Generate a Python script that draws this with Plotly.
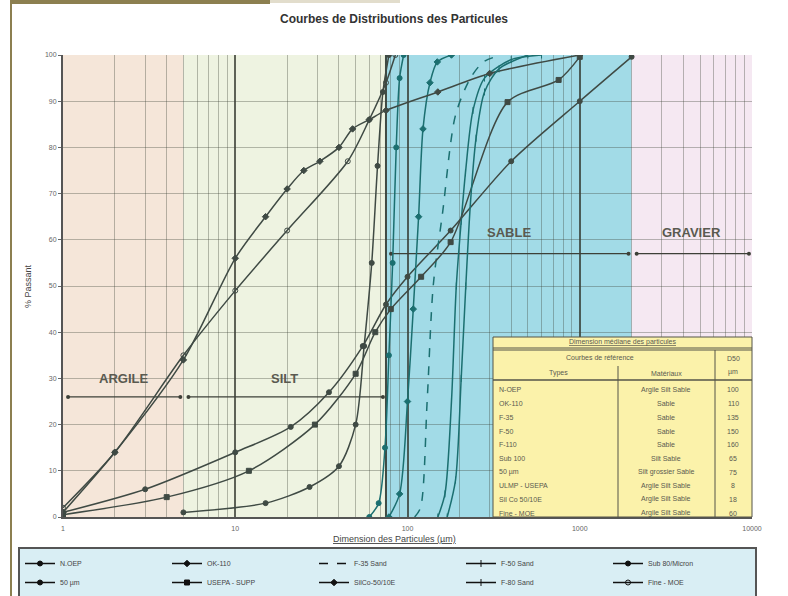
import numpy as np
import plotly.graph_objects as go

# Zones granulométriques (µm)
zone_names = ["ARGILE", "SILT", "SABLE", "GRAVIER"]
zone_limits = [1, 5, 75, 2000, 10000]
zone_colors = ["#f5e6d9", "#eef3e1", "#a2dbe7", "#f5e8f2"]
zone_label_y = [30, 30, 61.5, 61.5]
zone_arrow_y = [26, 26, 57, 57]

# Axis ticks
x_ticks = [1, 10, 100, 1000, 10000]
x_tick_text = ["1", "10", "100", "1000", "10000"]
y_ticks = list(range(0, 101, 10))

# Courbes: dimension (µm) / % passant
noep_d = [1, 3, 10, 21, 35, 55, 75, 100, 178, 400, 1000, 2000]
noep_p = [1, 6, 14, 19.5, 27, 37, 46, 52, 62, 77, 90, 99.6]

ok110_d = [78, 90, 100, 108, 116, 123, 135, 149, 180]
ok110_p = [0, 5, 25, 45, 65, 84, 94, 98.5, 100]

f35_d = [110, 119, 130, 141, 160, 190, 232, 276, 350]
f35_p = [0, 2, 25, 50, 66, 87, 95, 98.5, 100]

f50_d = [150, 165, 180, 192, 205, 217, 240, 280, 400, 600]
f50_p = [0, 5, 25, 50, 64, 74.5, 88, 95, 99, 100]

sub80_d = [5, 15, 27, 40, 50, 56, 62, 67, 72, 78]
sub80_p = [1, 3, 6.5, 11, 20, 37, 55, 76, 92, 100]

um50_d = [60, 68, 74, 78, 82, 86, 90, 95]
um50_p = [0, 3, 15, 35, 55, 80, 95, 100]

usepa_d = [1, 4, 12, 29, 50, 65, 80, 120, 178, 381, 754, 1000]
usepa_p = [0.5, 4.3, 10, 20, 31, 40, 45, 52, 59.5, 89.8, 94.6, 99.6]

silco_d = [1, 2, 5, 10, 15, 20, 25, 31, 40, 48, 60, 75, 150, 300, 1000]
silco_p = [1, 14, 34, 56, 65, 71, 75, 77, 80, 84, 86, 88, 92, 96, 100]

f80_d = [170, 190, 205, 218, 232, 250, 280, 340, 500]
f80_p = [0, 8, 30, 50, 68, 82, 92, 97, 100]

moe_d = [1, 2, 5, 10, 20, 45, 60, 75, 85]
moe_p = [2, 14, 35, 49, 62, 77, 86, 94, 100]

# Tableau des diamètres médians
table_types = ["N-OEP", "OK-110", "F-35", "F-50", "F-110", "Sub 100", "50 µm",
               "ULMP - USEPA", "Sil Co 50/10E", "Fine - MOE"]
table_mat = ["Argile Silt Sable", "Sable", "Sable", "Sable", "Sable", "Silt Sable",
             "Silt grossier Sable", "Argile Silt Sable", "Argile Silt Sable",
             "Argile Silt Sable"]
table_d50 = ["100", "110", "135", "150", "160", "65", "75", "8", "18", "60"]

GRAY = "#3f4a44"
TEAL = "#1b6f70"

# name, x, y, color, dash, symbol
curves = [
    ("N.OEP", noep_d, noep_p, GRAY, "solid", "circle"),
    ("OK-110", ok110_d, ok110_p, TEAL, "solid", "diamond"),
    ("F-35 Sand", f35_d, f35_p, TEAL, "dash", None),
    ("F-50 Sand", f50_d, f50_p, TEAL, "solid", "line-ns"),
    ("Sub 80/Micron", sub80_d, sub80_p, GRAY, "solid", "circle"),
    ("50 µm", um50_d, um50_p, TEAL, "solid", "circle"),
    ("USEPA - SUPP", usepa_d, usepa_p, GRAY, "solid", "square"),
    ("SilCo-50/10E", silco_d, silco_p, GRAY, "solid", "diamond"),
    ("F-80 Sand", f80_d, f80_p, TEAL, "solid", "line-ns"),
    ("Fine - MOE", moe_d, moe_p, GRAY, "solid", "circle-open"),
]


def px_x(px):
    return (px - 63) / 689


def px_y(py):
    return (517 - py) / 462


fig = go.Figure()

# Zone arrows
for i, name in enumerate(zone_names):
    lo, hi = zone_limits[i], zone_limits[i + 1]
    fig.add_trace(
        go.Scatter(
            x=[lo * 1.07, hi * 0.96],
            y=[zone_arrow_y[i], zone_arrow_y[i]],
            mode="lines+markers",
            line=dict(color="#3d4038", width=1.2),
            marker=dict(size=4, color="#3d4038"),
            showlegend=False,
            hoverinfo="skip",
        )
    )

# Curves
for name, xs, ys, col, dash, sym in curves:
    fig.add_trace(
        go.Scatter(
            x=xs,
            y=ys,
            mode="lines+markers" if sym else "lines",
            line=dict(color=col, width=1.5, dash=dash, shape="spline", smoothing=0.8),
            marker=dict(symbol=sym or "circle", size=5, color=col,
                        line=dict(color=col, width=1)),
            name=name,
            showlegend=False,
        )
    )
    # legend entry in black
    fig.add_trace(
        go.Scatter(
            x=[None],
            y=[None],
            mode="lines+markers" if sym else "lines",
            line=dict(color="#111111", width=1.5, dash=dash),
            marker=dict(symbol=sym or "circle", size=5, color="#111111",
                        line=dict(color="#111111", width=1)),
            name=name,
        )
    )

shapes = []
# Background zones
for i in range(len(zone_names)):
    shapes.append(dict(type="rect", xref="x", yref="paper",
                       x0=zone_limits[i], x1=zone_limits[i + 1], y0=0, y1=1,
                       fillcolor=zone_colors[i], line=dict(width=0), layer="below"))
shapes.append(dict(type="line", xref="x", yref="paper", x0=75, x1=75, y0=0, y1=1,
                   line=dict(color="#3f4a44", width=2), layer="below"))

# Table
T_L, T_R, T_T, T_B = 493, 752, 337, 517
C1, C2 = 618, 715
TBL_LINE = "#555548"
shapes.append(dict(type="rect", xref="paper", yref="paper",
                   x0=px_x(T_L), x1=px_x(T_R), y0=px_y(T_B), y1=px_y(T_T),
                   fillcolor="#fbf2aa", line=dict(color=TBL_LINE, width=1)))
for yy, w in [(348, 1), (350, 1), (380, 1.5)]:
    shapes.append(dict(type="line", xref="paper", yref="paper",
                       x0=px_x(T_L), x1=px_x(T_R), y0=px_y(yy), y1=px_y(yy),
                       line=dict(color=TBL_LINE, width=w)))
shapes.append(dict(type="line", xref="paper", yref="paper",
                   x0=px_x(C1), x1=px_x(C1), y0=px_y(T_B), y1=px_y(366),
                   line=dict(color=TBL_LINE, width=1)))
shapes.append(dict(type="line", xref="paper", yref="paper",
                   x0=px_x(C2), x1=px_x(C2), y0=px_y(T_B), y1=px_y(350),
                   line=dict(color=TBL_LINE, width=1)))

# Page frame
shapes.append(dict(type="line", xref="paper", yref="paper",
                   x0=px_x(11), x1=px_x(11), y0=px_y(0), y1=px_y(596),
                   line=dict(color="#8c7f50", width=2)))
shapes.append(dict(type="rect", xref="paper", yref="paper",
                   x0=px_x(10), x1=px_x(270), y0=px_y(4), y1=px_y(0),
                   fillcolor="#8c7f50", line=dict(width=0)))
shapes.append(dict(type="rect", xref="paper", yref="paper",
                   x0=px_x(270), x1=px_x(400), y0=px_y(3), y1=px_y(0),
                   fillcolor="#e2ddcc", line=dict(width=0)))

annotations = []
for i, name in enumerate(zone_names):
    center = np.sqrt(zone_limits[i] * zone_limits[i + 1])
    annotations.append(dict(x=np.log10(center), y=zone_label_y[i], xref="x", yref="y",
                            text="<b>%s</b>" % name, showarrow=False, xanchor="center",
                            font=dict(size=13, color="#5a5a50")))

TF = dict(size=7, color="#5a5a50")


def cell(px, py, text, anchor="center"):
    annotations.append(dict(x=px_x(px), y=px_y(py), xref="paper", yref="paper",
                            xanchor=anchor, yanchor="middle", text=text,
                            showarrow=False, font=TF))


cell((T_L + T_R) / 2, 342, "<u>Dimension médiane des particules</u>")
cell(600, 357, "Courbes de référence")
cell(558, 373, "Types")
cell(666, 373, "Matériaux")
cell(733, 358, "D50")
cell(733, 372, "µm")
for i in range(len(table_types)):
    yy = 390 + 13.67 * i
    cell(497, yy, table_types[i], "left")
    cell(666, yy, table_mat[i])
    cell(733, yy, table_d50[i])

# Axis titles
annotations.append(dict(x=px_x(394), y=px_y(539), xref="paper", yref="paper",
                        xanchor="center", yanchor="middle",
                        text="<u>Dimension des Particules (µm)</u>",
                        showarrow=False, font=dict(size=9, color="#444")))
annotations.append(dict(x=px_x(28), y=px_y(286), xref="paper", yref="paper",
                        xanchor="center", yanchor="middle", text="% Passant",
                        textangle=-90, showarrow=False, font=dict(size=9, color="#444")))

minor_vals = [k * 10 ** e for e in range(4) for k in range(2, 10)]

fig.update_layout(
    width=788,
    height=596,
    margin=dict(l=63, r=36, t=55, b=79, autoexpand=False),
    paper_bgcolor="white",
    plot_bgcolor="white",
    font=dict(family="Liberation Sans, Arial, sans-serif", color="#444"),
    title=dict(text="<b>Courbes de Distributions des Particules</b>", x=0.5, y=0.975,
               xanchor="center", yanchor="top", font=dict(size=12, color="#333")),
    shapes=shapes,
    annotations=annotations,
    showlegend=True,
    legend=dict(
        orientation="h",
        x=px_x(18),
        y=px_y(547),
        xanchor="left",
        yanchor="top",
        bgcolor="#d9eef4",
        bordercolor="#555",
        borderwidth=2,
        entrywidth=102,
        entrywidthmode="pixels",
        tracegroupgap=0,
        font=dict(size=7, color="#444"),
    ),
)

fig.update_xaxes(
    type="log",
    range=[0, 4],
    tickvals=x_ticks,
    ticktext=x_tick_text,
    tickfont=dict(size=7, color="#666"),
    ticklabelstandoff=4,
    showgrid=True,
    gridcolor="rgba(45,50,40,0.75)",
    gridwidth=1.5,
    minor=dict(tickvals=minor_vals, showgrid=True, gridcolor="rgba(60,65,55,0.35)", gridwidth=1),
    showline=True,
    linecolor="#555",
    linewidth=2,
    zeroline=False,
    ticks="",
)
fig.update_yaxes(
    range=[0, 100],
    tickvals=y_ticks,
    tickfont=dict(size=7, color="#666"),
    showgrid=True,
    gridcolor="rgba(60,65,55,0.35)",
    gridwidth=1,
    showline=True,
    linecolor="#555",
    linewidth=2,
    zeroline=False,
    ticks="outside",
    ticklen=3,
    tickcolor="#666",
)

# the page's default body margin would shift the figure by 8 px
fig.write_html("out.html", config={"displayModeBar": False},
               post_script="document.body.style.margin='0px';")
